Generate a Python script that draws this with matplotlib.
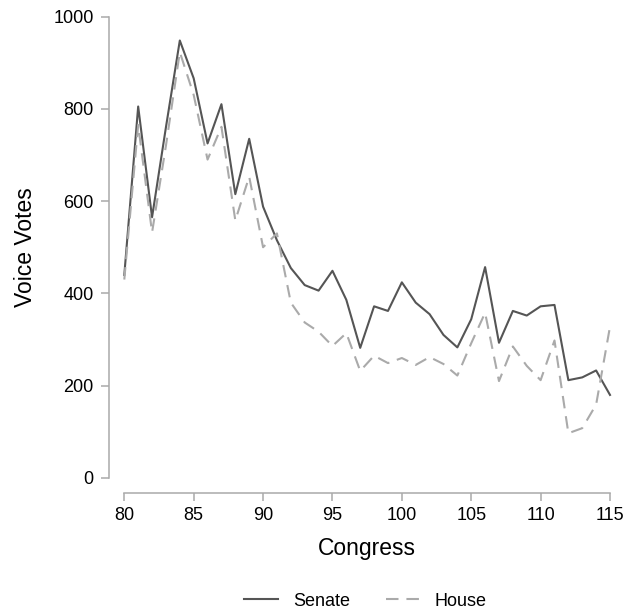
import matplotlib
matplotlib.use("Agg")
import matplotlib.pyplot as plt
import numpy as np

plt.rcParams['font.family'] = ['Liberation Sans', 'DejaVu Sans']

congress = list(range(80, 116))
senate = [440, 805, 565, 760, 948, 866, 725, 810, 615, 735, 588, 515, 455, 418,
          406, 449, 386, 282, 372, 362, 424, 380, 355, 310, 283, 344, 457, 293,
          362, 352, 372, 375, 212, 218, 233, 180]
house = [430, 765, 532, 720, 923, 830, 690, 761, 558, 653, 500, 530, 380, 337,
         317, 286, 314, 232, 265, 249, 260, 245, 262, 247, 222, 292, 358, 210,
         285, 243, 212, 298, 97, 108, 159, 328]
x_ticks = [80, 85, 90, 95, 100, 105, 110, 115]
y_ticks = [0, 200, 400, 600, 800, 1000]

W, H = 626, 611
fig = plt.figure(figsize=(W / 100, H / 100), dpi=100)
x0, x1 = 124.3, 610.0
ytop, ybot = 16.5, 478.0
ax = fig.add_axes([x0 / W, (H - ybot) / H, (x1 - x0) / W, (ybot - ytop) / H])

ax.plot(congress, senate, color='#555555', lw=1.5, label='Senate', clip_on=False)
ax.plot(congress, house, color='#aaaaaa', lw=1.5, ls=(0, (6, 3.8)), label='House', clip_on=False)

ax.set_xlim(80, 115)
ax.set_ylim(0, 1000)
ax.set_xticks(x_ticks)
ax.set_yticks(y_ticks)

for s in ['top', 'right']:
    ax.spines[s].set_visible(False)
ax.spines['left'].set_position(('outward', 11))
ax.spines['bottom'].set_position(('outward', 10.6))
ax.spines['left'].set_bounds(0, 1000)
ax.spines['bottom'].set_bounds(80, 115)
for s in ['left', 'bottom']:
    ax.spines[s].set_color('#aaaaaa')
    ax.spines[s].set_linewidth(1.1)
ax.tick_params(colors='#aaaaaa', labelcolor='black', labelsize=13, width=1.1, length=6)
ax.tick_params(axis='y', pad=5)
ax.tick_params(axis='x', pad=4)

ax.set_xlabel('Congress', fontsize=16.5, labelpad=10)
ax.set_ylabel('Voice Votes', fontsize=16.5, labelpad=12)

fig.legend(loc='center', bbox_to_anchor=(365.5 / W, 1 - 601 / H), ncol=2, frameon=False,
           fontsize=13, handlelength=1.85, handletextpad=0.85, columnspacing=2.0,
           borderpad=0, borderaxespad=0)

fig.savefig('out.png', dpi=100)
